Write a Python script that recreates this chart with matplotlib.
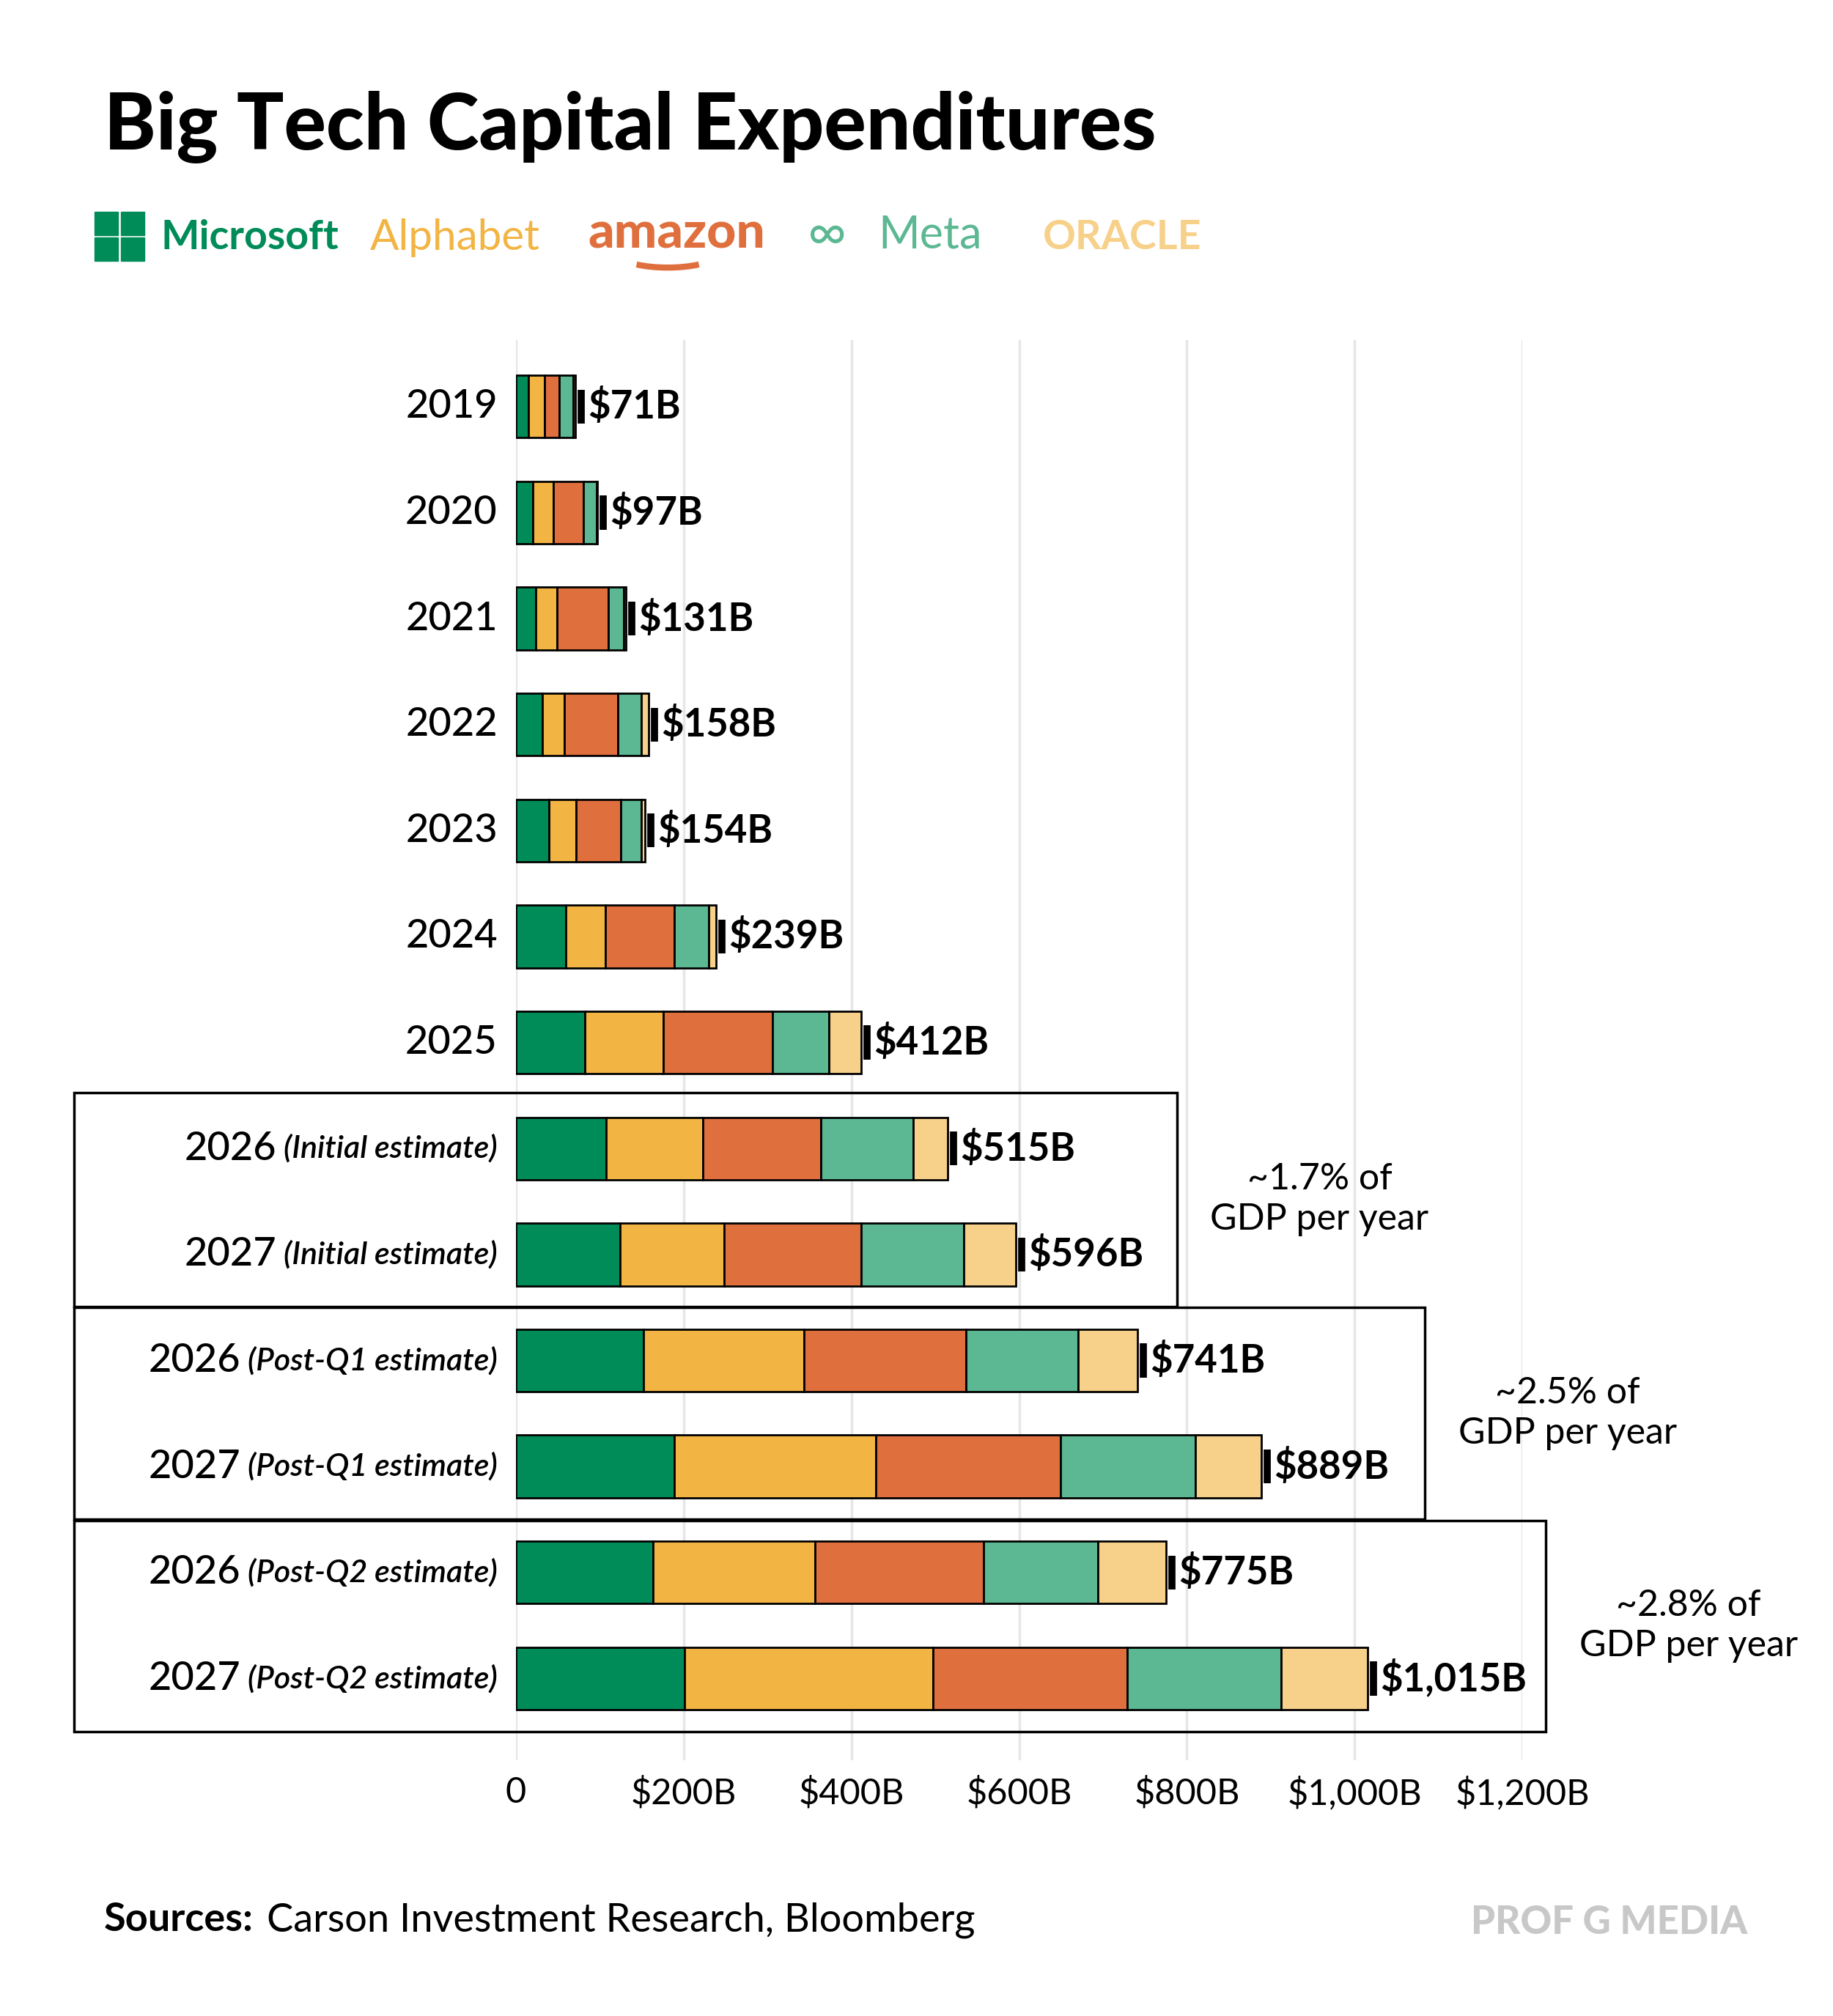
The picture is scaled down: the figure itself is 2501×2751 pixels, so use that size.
import matplotlib.pyplot as plt
from matplotlib.patches import Rectangle, Arc

plt.rcParams['font.family'] = ['Lato', 'DejaVu Sans']

years = ["2019", "2020", "2021", "2022", "2023", "2024", "2025",
         "2026", "2027", "2026", "2027", "2026", "2027"]
notes = ["", "", "", "", "", "", "",
         "(Initial estimate)", "(Initial estimate)",
         "(Post-Q1 estimate)", "(Post-Q1 estimate)",
         "(Post-Q2 estimate)", "(Post-Q2 estimate)"]
microsoft = [15, 20, 24, 32, 40, 60, 82, 108, 124, 152, 189, 164, 201]
alphabet = [19, 25, 25, 26, 32, 47, 94, 115, 124, 192, 240, 193, 296]
amazon = [18, 36, 61, 64, 53, 82, 130, 141, 164, 193, 220, 201, 232]
meta = [16, 15, 19, 28, 25, 41, 67, 110, 122, 133, 161, 136, 183]
oracle = [3, 1, 2, 8, 4, 9, 39, 41, 62, 71, 79, 81, 103]
totals = ["$71B", "$97B", "$131B", "$158B", "$154B", "$239B", "$412B",
          "$515B", "$596B", "$741B", "$889B", "$775B", "$1,015B"]
gdp_notes = ["~1.7% of\nGDP per year", "~2.5% of\nGDP per year", "~2.8% of\nGDP per year"]

names = ["Microsoft", "Alphabet", "amazon", "Meta", "ORACLE"]
colors = ["#008c59", "#f2b544", "#e06f3e", "#5bb893", "#f7d08a"]

W, H = 1411, 1552
fig = plt.figure(figsize=(25.01, 27.51), dpi=100)
fx = lambda px: px / W
fy = lambda py: 1 - py / H

ax = fig.add_axes([fx(397), fy(1355), fx(1172) - fx(397), fy(262) - fy(1355)])
ax.set_xlim(0, 1200)
ax.set_ylim(12.77, -0.625)

series = [microsoft, alphabet, amazon, meta, oracle]
ys = list(range(len(years)))
left = [0] * len(years)
for vals, c in zip(series, colors):
    ax.barh(ys, vals, left=left, height=0.59, color=c, edgecolor="black", linewidth=2, zorder=3)
    left = [l + v for l, v in zip(left, vals)]

for y, tot, lab in zip(ys, left, totals):
    ax.plot([tot + 7, tot + 7], [y - 0.16, y + 0.16], color="black", lw=7, zorder=4,
            solid_capstyle="butt")
    ax.text(tot + 15, y, lab, va="center", ha="left", fontsize=38, fontweight="bold")

ax.set_xticks(range(0, 1201, 200))
ax.set_xticklabels(["0", "$200B", "$400B", "$600B", "$800B", "$1,000B", "$1,200B"], fontsize=35)
ax.tick_params(axis="x", length=0, pad=16)
ax.set_yticks([])
ax.grid(axis="x", color="#e6e6e6", lw=2.5, zorder=0)
ax.set_axisbelow(True)
for s in ax.spines.values():
    s.set_visible(False)

# year labels
fig.canvas.draw()
r = fig.canvas.get_renderer()
lx = (383 - 397) / 0.6458
for y, yr, nt in zip(ys, years, notes):
    if nt:
        t = ax.text(lx, y, nt, ha="right", va="center", fontsize=31, style="italic", fontweight="semibold")
        bb = t.get_window_extent(renderer=r)
        x0 = ax.transData.inverted().transform((bb.x0 - 10, 0))[0]
        ax.text(x0, y, yr, ha="right", va="center", fontsize=39, fontweight="medium")
    else:
        ax.text(lx, y, yr, ha="right", va="center", fontsize=39, fontweight="medium")

# boxes
px2x = lambda px: (px - 397) / 0.6458
boxes = [(57, 906, 6.47, 8.49), (57, 1097, 8.5, 10.5), (57, 1190, 10.51, 12.5)]
for (a, b, y0, y1), g in zip(boxes, gdp_notes):
    ax.add_patch(Rectangle((px2x(a), y0), px2x(b) - px2x(a), y1 - y0, fill=False,
                           edgecolor="black", lw=2.5, clip_on=False, zorder=5))
    ax.text(px2x(b) + 170, (y0 + y1) / 2, g, ha="center", va="center",
            fontsize=36, linespacing=1.25)

# title and logos
fig.text(fx(80), fy(98), "Big Tech Capital Expenditures", fontsize=77, fontweight="black", va="center")
for i in range(2):
    for j in range(2):
        fig.patches.append(Rectangle((fx(73 + i * 20), fy(201 - j * 20)), fx(18), fy(0) - fy(18),
                                     transform=fig.transFigure, color=colors[0]))
fig.text(fx(124), fy(183), names[0], color=colors[0], fontsize=40, fontweight="bold", va="center")
fig.text(fx(285), fy(183), names[1], color=colors[1], fontsize=42, va="center")
fig.text(fx(453), fy(180), names[2], color=colors[2], fontsize=50, fontweight="black", va="center")
fig.patches.append(Arc((fx(514), fy(194)), fx(80), fy(0) - fy(24), theta1=200, theta2=340,
                       transform=fig.transFigure, color=colors[2], lw=6))
fig.text(fx(622), fy(181), "∞", color=colors[3], fontsize=52, va="center")
fig.text(fx(676), fy(181), names[3], color=colors[3], fontsize=44, va="center")
fig.text(fx(803), fy(183), names[4], color=colors[4], fontsize=40, va="center", fontweight="bold")

# footer
s1 = fig.text(fx(80), fy(1478), "Sources:", fontsize=39, fontweight="bold", va="center")
bb = s1.get_window_extent(renderer=r)
fig.text(bb.x1 / fig.bbox.width + fx(10), fy(1478), "Carson Investment Research, Bloomberg",
         fontsize=39, va="center")
fig.text(fx(1345), fy(1480), "PROF G MEDIA", fontsize=38, fontweight="black", color="#c8c8c8",
         ha="right", va="center")

fig.savefig("out.png", dpi=100, facecolor="white")
